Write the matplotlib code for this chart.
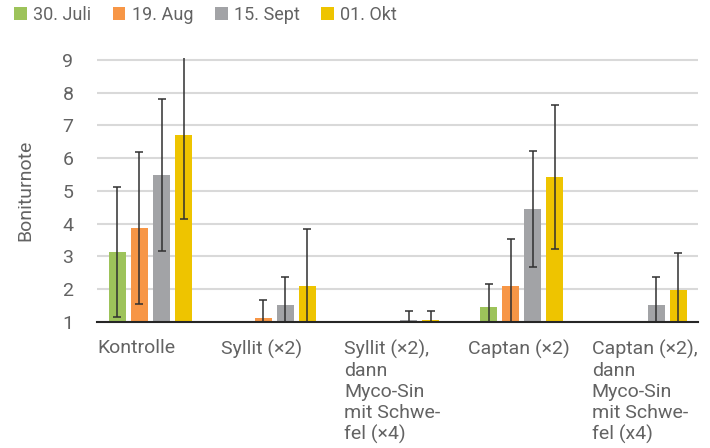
import numpy as np
import matplotlib
matplotlib.use("Agg")
import matplotlib.pyplot as plt

plt.rcParams['font.family'] = ['Roboto', 'DejaVu Sans']
plt.rcParams['font.weight'] = 'normal'

categories = ["Kontrolle", "Syllit (×2)",
              "Syllit (×2),\ndann\nMyco-Sin\nmit Schwe-\nfel (×4)",
              "Captan (×2)",
              "Captan (×2),\ndann\nMyco-Sin\nmit Schwe-\nfel (x4)"]
series_names = ["30. Juli", "19. Aug", "15. Sept", "01. Okt"]
nan = np.nan
juli = [3.14, nan, nan, 1.46, nan]
juli_err = [1.99, nan, nan, 0.69, nan]
aug = [3.86, 1.12, nan, 2.10, nan]
aug_err = [2.32, 0.54, nan, 1.42, nan]
sept = [5.49, 1.52, 1.05, 4.45, 1.52]
sept_err = [2.32, 0.86, 0.30, 1.76, 0.86]
okt = [6.71, 2.10, 1.06, 5.43, 1.98]
okt_err = [2.56, 1.74, 0.29, 2.20, 1.14]
yticks = [1, 2, 3, 4, 5, 6, 7, 8, 9]

colors = ["#9DC35A", "#F79646", "#A2A3A6", "#EEC400"]
text_color = "#636363"

fig = plt.figure(figsize=(7.10, 4.48), dpi=100)
ax = fig.add_axes([97/710, 1-322/448, 601/710, 264/448])

x = np.arange(len(categories))
width = 0.137
step = 0.178
handles = []
for i, (vals, errs) in enumerate(zip([juli, aug, sept, okt], [juli_err, aug_err, sept_err, okt_err])):
    pos = x + (i - 1.5) * step
    b = ax.bar(pos, vals, width=width, color=colors[i], label=series_names[i], zorder=2)
    handles.append(b)
    ax.errorbar(pos, vals, yerr=errs, fmt='none', ecolor='#303030', elinewidth=1.1,
                capsize=3.2, capthick=1.1, zorder=3)

ax.set_ylim(1, 9.06)
ax.set_xlim(-0.4325, 4.426)
ax.set_yticks(yticks)
ax.yaxis.grid(True, color="#d9d9d9", linewidth=1.5, zorder=0)
ax.set_axisbelow(True)
for s in ['top', 'right', 'left']:
    ax.spines[s].set_visible(False)
ax.spines['bottom'].set_color('#262626')
ax.spines['bottom'].set_linewidth(1.5)
ax.spines['bottom'].set_zorder(4)

ax.tick_params(axis='y', length=0, pad=17, labelsize=14, labelcolor=text_color)
ax.tick_params(axis='x', length=0, pad=12.5, labelsize=14, labelcolor=text_color)
ax.set_xticks(x - 0.432, labels=categories)
for lbl in ax.get_xticklabels():
    lbl.set_ha('left')
    lbl.set_va('top')
    lbl.set_linespacing(1.22)

fig.text(25/710, 1-190/448, "Boniturnote", rotation=90, ha='center', va='center',
         fontsize=14, color=text_color)

leg = fig.legend(handles=handles, labels=series_names, loc='upper left',
                 bbox_to_anchor=(14/710, 1-6/448), ncol=4, frameon=False,
                 fontsize=13, handlelength=0.7, handleheight=0.7, handletextpad=0.35,
                 columnspacing=1.2, borderpad=0, borderaxespad=0)
for t in leg.get_texts():
    t.set_color(text_color)

fig.savefig("out.png", dpi=100)
